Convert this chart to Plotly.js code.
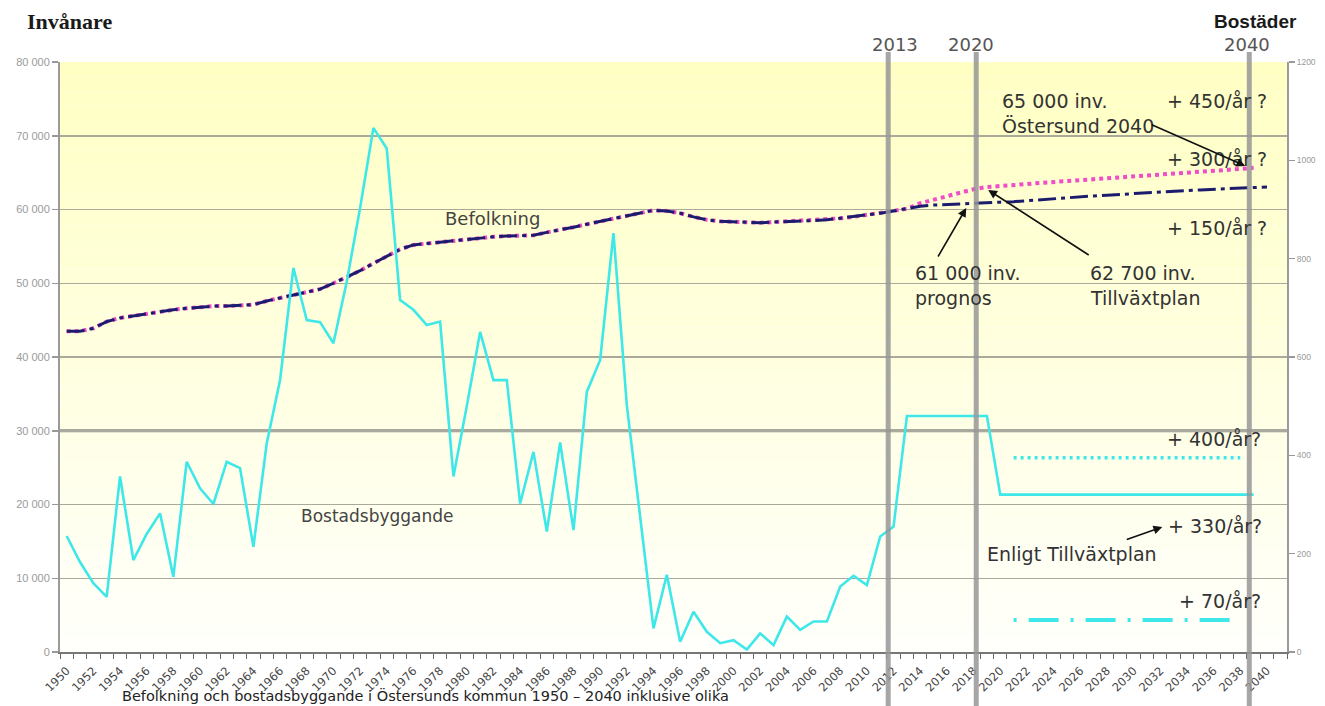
<!DOCTYPE html>
<html>
<head>
<meta charset="utf-8">
<script src="https://cdn.plot.ly/plotly-3.0.1.min.js"></script>
<style>html,body{margin:0;padding:0;background:#fff;}#chart{width:1325px;height:706px;}</style>
</head>
<body>
<div id="chart"></div>
<script>
// ---------- DATA ----------
function yearRange(a, b) { const r = []; for (let y = a; y <= b; y++) r.push(y); return r; }

// Population (Invånare), history 1950-2013
const popYears = yearRange(1950, 2013);
const population = [
  43500, 43500, 43900, 44800, 45300, 45600, 45900, 46200, 46400, 46600,
  46800, 46900, 46900, 47000, 47100, 47600, 48000, 48300, 48700, 49200,
  50000, 50800, 51700, 52700, 53700, 54600, 55200, 55400, 55500, 55700,
  56000, 56200, 56300, 56400, 56500, 56500, 56900, 57200, 57600, 58000,
  58400, 58800, 59200, 59600, 59900, 59800, 59500, 59000, 58600, 58400,
  58300, 58300, 58200, 58300, 58400, 58500, 58500, 58600, 58800, 59000,
  59300, 59500, 59800, 60100
];
// Forecast "prognos" 2014-2040
const prognosYears = yearRange(2014, 2040);
const prognos = [
  60450, 60600, 60700, 60780, 60840, 60920, 61000, 61060, 61200, 61350,
  61500, 61620, 61730, 61840, 61940, 62060, 62180, 62300, 62420, 62500,
  62580, 62660, 62740, 62820, 62900, 63000, 63050
];
// Forecast "Tillväxtplan" 2014-2039
const planYears = yearRange(2014, 2039);
const tillvaxtplan = [
  60850, 61300, 61750, 62300, 62750, 63050, 63150, 63300, 63450, 63600,
  63720, 63850, 63970, 64100, 64200, 64320, 64430, 64540, 64670, 64800,
  64930, 65060, 65200, 65350, 65500, 65650
];
// Housing construction (Bostäder), 1950-2039
const housingYears = yearRange(1950, 2039);
const housing = [
  236, 183, 140, 112, 357, 187, 240, 282, 153, 387,
  333, 301, 387, 374, 214, 424, 553, 781, 675, 671,
  628, 753, 903, 1066, 1024, 716, 696, 665, 672, 357,
  500, 651, 553, 553, 302, 407, 245, 426, 248, 529,
  594, 852, 502, 275, 48, 157, 21, 82, 41, 18,
  24, 5, 38, 14, 72, 45, 62, 62, 133, 155,
  136, 235, 255, 480, 480, 480, 480, 480, 480, 480,
  320, 320, 320, 320, 320, 320, 320, 320, 320, 320,
  320, 320, 320, 320, 320, 320, 320, 320, 320, 320
];
// Alternative housing levels
const altYears = [2021, 2038];
const alt400 = [395, 395];
const alt70 = [65, 65];

// Axis tick labels
const leftTicks = [0, 10000, 20000, 30000, 40000, 50000, 60000, 70000, 80000];
const leftTickText = ['0', '10 000', '20 000', '30 000', '40 000', '50 000', '60 000', '70 000', '80 000'];
const rightTicks = [0, 200, 400, 600, 800, 1000, 1200];

// ---------- LAYOUT HELPERS ----------
const L = 60, R = 1286.7, T = 62, B = 652;
function P(px, py) { return { x: (px - L) / (R - L), y: (B - py) / (B - T), xref: 'paper', yref: 'paper' }; }
function txt(text, px, py, opt) {
  return Object.assign(P(px, py), {
    text: text, showarrow: false, xanchor: 'left', yanchor: 'middle',
    font: { family: 'DejaVu Sans', size: 19, color: '#333' }
  }, opt || {});
}
function arrow(px, py, tx, ty) {
  return Object.assign(P(px, py), {
    text: '', showarrow: true, ax: tx - px, ay: ty - py, axref: 'pixel', ayref: 'pixel',
    arrowhead: 2, arrowsize: 1.1, arrowwidth: 1.6, arrowcolor: '#111'
  });
}

// background gradient bands
const shapes = [];
const nb = 40;
for (let i = 0; i < nb; i++) {
  const t = i / (nb - 1);
  const b = Math.round(196 + (251 - 196) * t);
  shapes.push({ type: 'rect', xref: 'paper', yref: 'paper', x0: 0, x1: 1,
    y1: 1 - i / nb, y0: 1 - (i + 1) / nb, fillcolor: 'rgb(255,255,' + b + ')',
    line: { width: 0 }, layer: 'below' });
}
// darker 30 000 line
shapes.push({ type: 'line', xref: 'paper', yref: 'y', x0: 0, x1: 1, y0: 30000, y1: 30000,
  line: { color: '#8d8d8d', width: 3 }, layer: 'between' });
// vertical marker lines (drawn over the chart)
[888, 976, 1249].forEach(function (px) {
  const p = P(px, 0);
  shapes.push({ type: 'line', xref: 'paper', yref: 'paper', x0: p.x, x1: p.x,
    y0: (B - 706) / (B - T), y1: (B - 52) / (B - T),
    line: { color: 'rgba(150,150,150,0.85)', width: 5 }, layer: 'above' });
});

const traces = [
  { x: popYears.concat(planYears), y: population.concat(tillvaxtplan), type: 'scatter', mode: 'lines',
    line: { color: '#f04ec8', width: 4, dash: '4px,4px' }, hoverinfo: 'skip' },
  { x: popYears.concat(prognosYears), y: population.concat(prognos), type: 'scatter', mode: 'lines',
    line: { color: '#1c1c6e', width: 3, dash: '18px,5px,4px,5px' }, hoverinfo: 'skip' },
  { x: housingYears, y: housing, yaxis: 'y2', type: 'scatter', mode: 'lines',
    line: { color: '#3ee8e8', width: 2.6 }, hoverinfo: 'skip' },
  { x: altYears, y: alt400, yaxis: 'y2', type: 'scatter', mode: 'lines',
    line: { color: '#3ee8e8', width: 3.5, dash: '3px,4px' }, hoverinfo: 'skip' },
  { x: altYears, y: alt70, yaxis: 'y2', type: 'scatter', mode: 'lines',
    line: { color: '#3ee8e8', width: 4, dash: '3px,12px,30px,12px' }, hoverinfo: 'skip' }
];

const yearFont = { family: 'DejaVu Sans', size: 18, color: '#555' };
const annotations = [
  txt('Befolkning', 492, 218, { xanchor: 'center', font: { family: 'DejaVu Sans', size: 18, color: '#444' } }),
  txt('Bostadsbyggande', 377, 516, { xanchor: 'center', font: { family: 'DejaVu Sans', size: 17, color: '#444' } }),
  txt('65 000 inv.', 1000, 101),
  txt('Östersund 2040', 1000, 126),
  txt('+ 450/år ?', 1165, 101),
  txt('+ 300/år ?', 1165, 159),
  txt('+ 150/år ?', 1165, 228),
  txt('61 000 inv.', 913, 273),
  txt('prognos', 913, 298),
  txt('62 700 inv.', 1088, 273),
  txt('Tillväxtplan', 1088, 298),
  txt('+ 400/år?', 1165, 439),
  txt('+ 330/år?', 1166, 526),
  txt('Enligt Tillväxtplan', 985, 554),
  txt('+ 70/år?', 1177, 601),
  txt('2013', 895, 45, { xanchor: 'center', font: yearFont }),
  txt('2020', 971, 45, { xanchor: 'center', font: yearFont }),
  txt('2040', 1247, 45, { xanchor: 'center', font: yearFont }),
  txt('<b>Invånare</b>', 25, 22, { font: { family: 'Liberation Serif', size: 22, color: '#1a1a1a' } }),
  txt('<b>Bostäder</b>', 1299, 21, { xanchor: 'right', font: { family: 'Liberation Sans', size: 19, color: '#1a1a1a' } }),
  txt('Befolkning och bostadsbyggande i Östersunds kommun 1950 – 2040 inklusive olika', 120, 685,
      { yanchor: 'top', font: { family: 'DejaVu Sans', size: 14.5, color: '#222' } }),
  arrow(1245, 166, 1150, 124),
  arrow(966, 208, 937, 258),
  arrow(988, 190, 1090, 256),
  arrow(1162, 527, 1125, 540)
];

const layout = {
  width: 1325, height: 706,
  margin: { l: L, r: 1325 - R, t: T, b: 706 - B, pad: 0 },
  paper_bgcolor: '#ffffff', plot_bgcolor: '#ffffff',
  showlegend: false,
  font: { family: 'DejaVu Sans', color: '#333' },
  xaxis: {
    range: [1949.5, 2041.5], tickmode: 'linear', tick0: 1950, dtick: 2, tickangle: -45,
    ticks: '', showgrid: false, zeroline: false, showline: true, linecolor: '#777', linewidth: 1.5,
    tickfont: { family: 'DejaVu Sans', size: 11.5, color: '#444' }, ticklabelstandoff: 6,
    minor: { ticks: 'outside', ticklen: 5, tick0: 1949.5, dtick: 1, tickcolor: '#666', tickwidth: 1, showgrid: false }
  },
  yaxis: {
    range: [0, 80000], tickvals: leftTicks, ticktext: leftTickText,
    ticks: 'outside', ticklen: 6, tickcolor: '#999', tickwidth: 1.5,
    showgrid: true, gridcolor: '#a9a99c', gridwidth: 1.5, zeroline: false,
    showline: true, linecolor: '#9a9a9a', linewidth: 2,
    tickfont: { family: 'Liberation Sans', size: 11, color: '#9a9a9a' }
  },
  yaxis2: {
    range: [0, 1200], overlaying: 'y', side: 'right', tickvals: rightTicks,
    ticks: 'outside', ticklen: 6, tickcolor: '#999', tickwidth: 1.5,
    showgrid: false, zeroline: false, showline: true, linecolor: '#9a9a9a', linewidth: 2,
    tickfont: { family: 'Liberation Sans', size: 8.5, color: '#9a9a9a' }
  },
  shapes: shapes,
  annotations: annotations
};

Plotly.newPlot('chart', traces, layout, { displayModeBar: false, staticPlot: true });
</script>
</body>
</html>
